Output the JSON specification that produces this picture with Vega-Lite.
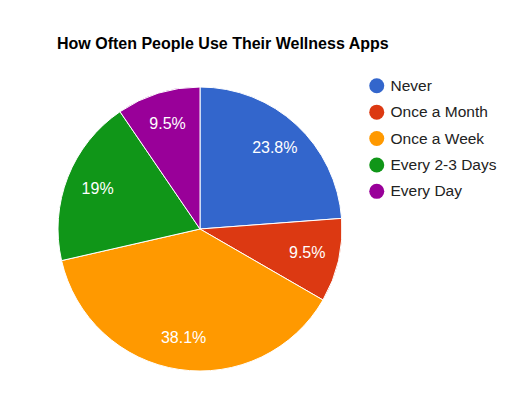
{
  "$schema": "https://vega.github.io/schema/vega-lite/v6.json",
  "autosize": "none",
  "width": 284,
  "height": 284,
  "padding": {"left": 58, "top": 87, "right": 187, "bottom": 29},
  "background": "white",
  "title": {
    "text": "How Often People Use Their Wellness Apps",
    "anchor": "start",
    "frame": "group",
    "offset": 26,
    "font": "Liberation Sans",
    "fontSize": 16,
    "fontWeight": "bold",
    "color": "#000000",
    "dx": -1
  },
  "data": {
    "values": [
      {"category": "Never", "count": 5, "order": 1, "label": "23.8%"},
      {"category": "Once a Month", "count": 2, "order": 2, "label": "9.5%"},
      {"category": "Once a Week", "count": 8, "order": 3, "label": "38.1%"},
      {"category": "Every 2-3 Days", "count": 4, "order": 4, "label": "19%"},
      {"category": "Every Day", "count": 2, "order": 5, "label": "9.5%"}
    ]
  },
  "encoding": {
    "theta": {"field": "count", "type": "quantitative", "stack": true},
    "order": {"field": "order", "type": "quantitative"}
  },
  "layer": [
    {
      "mark": {"type": "arc", "stroke": "white", "strokeWidth": 1},
      "encoding": {
        "color": {
          "field": "category",
          "type": "nominal",
          "sort": ["Never", "Once a Month", "Once a Week", "Every 2-3 Days", "Every Day"],
          "scale": {
            "domain": ["Never", "Once a Month", "Once a Week", "Every 2-3 Days", "Every Day"],
            "range": ["#3366cc", "#dc3912", "#ff9900", "#109618", "#990099"]
          },
          "legend": {
            "title": null,
            "orient": "none",
            "legendX": 311,
            "legendY": -9,
            "symbolType": "circle",
            "symbolSize": 225,
            "symbolStrokeWidth": 0,
            "labelFont": "Liberation Sans",
            "labelFontSize": 15.5,
            "labelColor": "#222222",
            "rowPadding": 9.4,
            "labelOffset": 6,
            "symbolOpacity": 1
          }
        }
      }
    },
    {
      "mark": {"type": "text", "radius": 110, "font": "Liberation Sans", "fontSize": 16, "color": "white", "baseline": "middle", "align": "center"},
      "encoding": {
        "text": {"field": "label", "type": "nominal"}
      }
    }
  ]
}
